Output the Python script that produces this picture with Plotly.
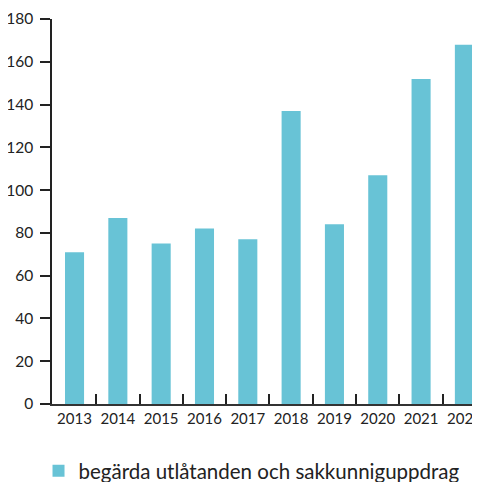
import plotly.graph_objects as go

years = ["2013", "2014", "2015", "2016", "2017", "2018", "2019", "2020", "2021", "2022"]
values = [71, 87, 75, 82, 77, 137, 84, 107, 152, 168]
series_name = "begärda utlåtanden och sakkunniguppdrag"
y_ticks = [0, 20, 40, 60, 80, 100, 120, 140, 160, 180]

bar_color = "#68c3d6"
font_family = "Lato, 'Open Sans', sans-serif"

fig = go.Figure()
fig.add_trace(go.Bar(
    x=years, y=values, name=series_name,
    marker=dict(color=bar_color, line=dict(width=0)),
    width=0.44, showlegend=True,
))

# page body adds an 8px offset; plot area ends at the window's right edge
fig.update_layout(
    width=480, height=474,
    margin=dict(l=44, r=8, t=11, b=78, autoexpand=False),
    paper_bgcolor="white", plot_bgcolor="white",
    font=dict(family=font_family, size=15, color="#222"),
    showlegend=True,
    legend=dict(orientation="h", x=-0.0315, xanchor="left", y=-0.174, yanchor="middle",
                font=dict(size=20.5, color="#222"), bgcolor="rgba(0,0,0,0)"),
    xaxis=dict(type="category", range=[-0.52, 9.36], showline=True, linecolor="#333", linewidth=1.5,
               ticks="inside", tickson="boundaries", ticklen=10, tickcolor="#222", tickwidth=1.5,
               showgrid=False, zeroline=False, tickfont=dict(size=15), tickangle=0,
               ticklabeloverflow="allow", automargin=False),
    yaxis=dict(range=[0, 180], tickvals=y_ticks, showline=True, linecolor="#222", linewidth=1.5,
               ticks="outside", ticklen=10, tickcolor="#222", tickwidth=1.5,
               showgrid=False, zeroline=False, tickfont=dict(size=15.5), ticklabelstandoff=4,
               automargin=False),
    bargap=0.56,
)

fig.write_html("out.html")
